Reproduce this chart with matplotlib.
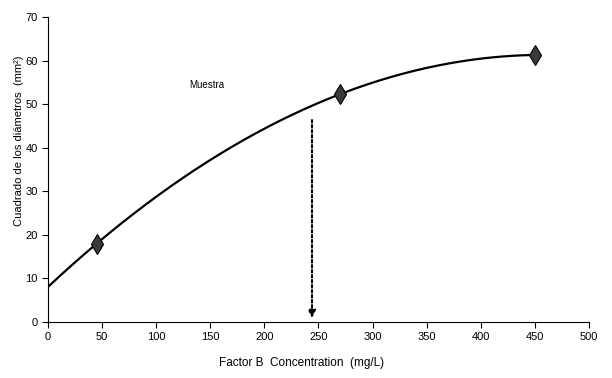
import numpy as np
import matplotlib.pyplot as plt

plt.rcParams['font.family'] = ['Liberation Sans Narrow', 'Liberation Sans', 'DejaVu Sans']

# Measured sample points
conc = [45, 270, 450]
diam_sq = [18.0, 52.3, 61.3]

# Unknown sample read-off
sample_x = 244
sample_y = 47

# Quadratic trendline through the points
coef = np.polyfit(conc, diam_sq, 2)
xs = np.linspace(0, 450, 200)
ys = np.polyval(coef, xs)

fig = plt.figure(figsize=(6.12, 3.78), dpi=100)
ax = fig.add_axes([0.0784, 0.148, 0.884, 0.807])

ax.plot(xs, ys, color="black", lw=1.6)
ax.plot(conc, diam_sq, linestyle="none", marker="d", markersize=10,
        markerfacecolor="#3a3a3a", markeredgecolor="black", markeredgewidth=0.8)

ax.annotate("", xy=(sample_x, 0.3), xytext=(sample_x, sample_y),
            arrowprops=dict(arrowstyle="-|>", linestyle=(0, (1.2, 1.2)), lw=1.5,
                            color="black", mutation_scale=11))

ax.text(131, 54.5, "Muestra", fontsize=7, ha="left", va="center")

ax.set_xlim(0, 500)
ax.set_ylim(0, 70)
ax.set_xticks(range(0, 501, 50))
ax.set_yticks(range(0, 71, 10))
ax.spines["top"].set_visible(False)
ax.spines["right"].set_visible(False)
ax.tick_params(direction="out", length=4, labelsize=8)
ax.set_xlabel("Factor B  Concentration  (mg/L)", fontsize=8.5)
ax.xaxis.set_label_coords(0.469, -0.113)
ax.set_ylabel("Cuadrado de los diámetros  (mm²)", fontsize=8,
              family=["Liberation Sans", "DejaVu Sans"])
ax.yaxis.set_label_coords(-0.044, 0.593)

fig.savefig("out.png", dpi=100)
